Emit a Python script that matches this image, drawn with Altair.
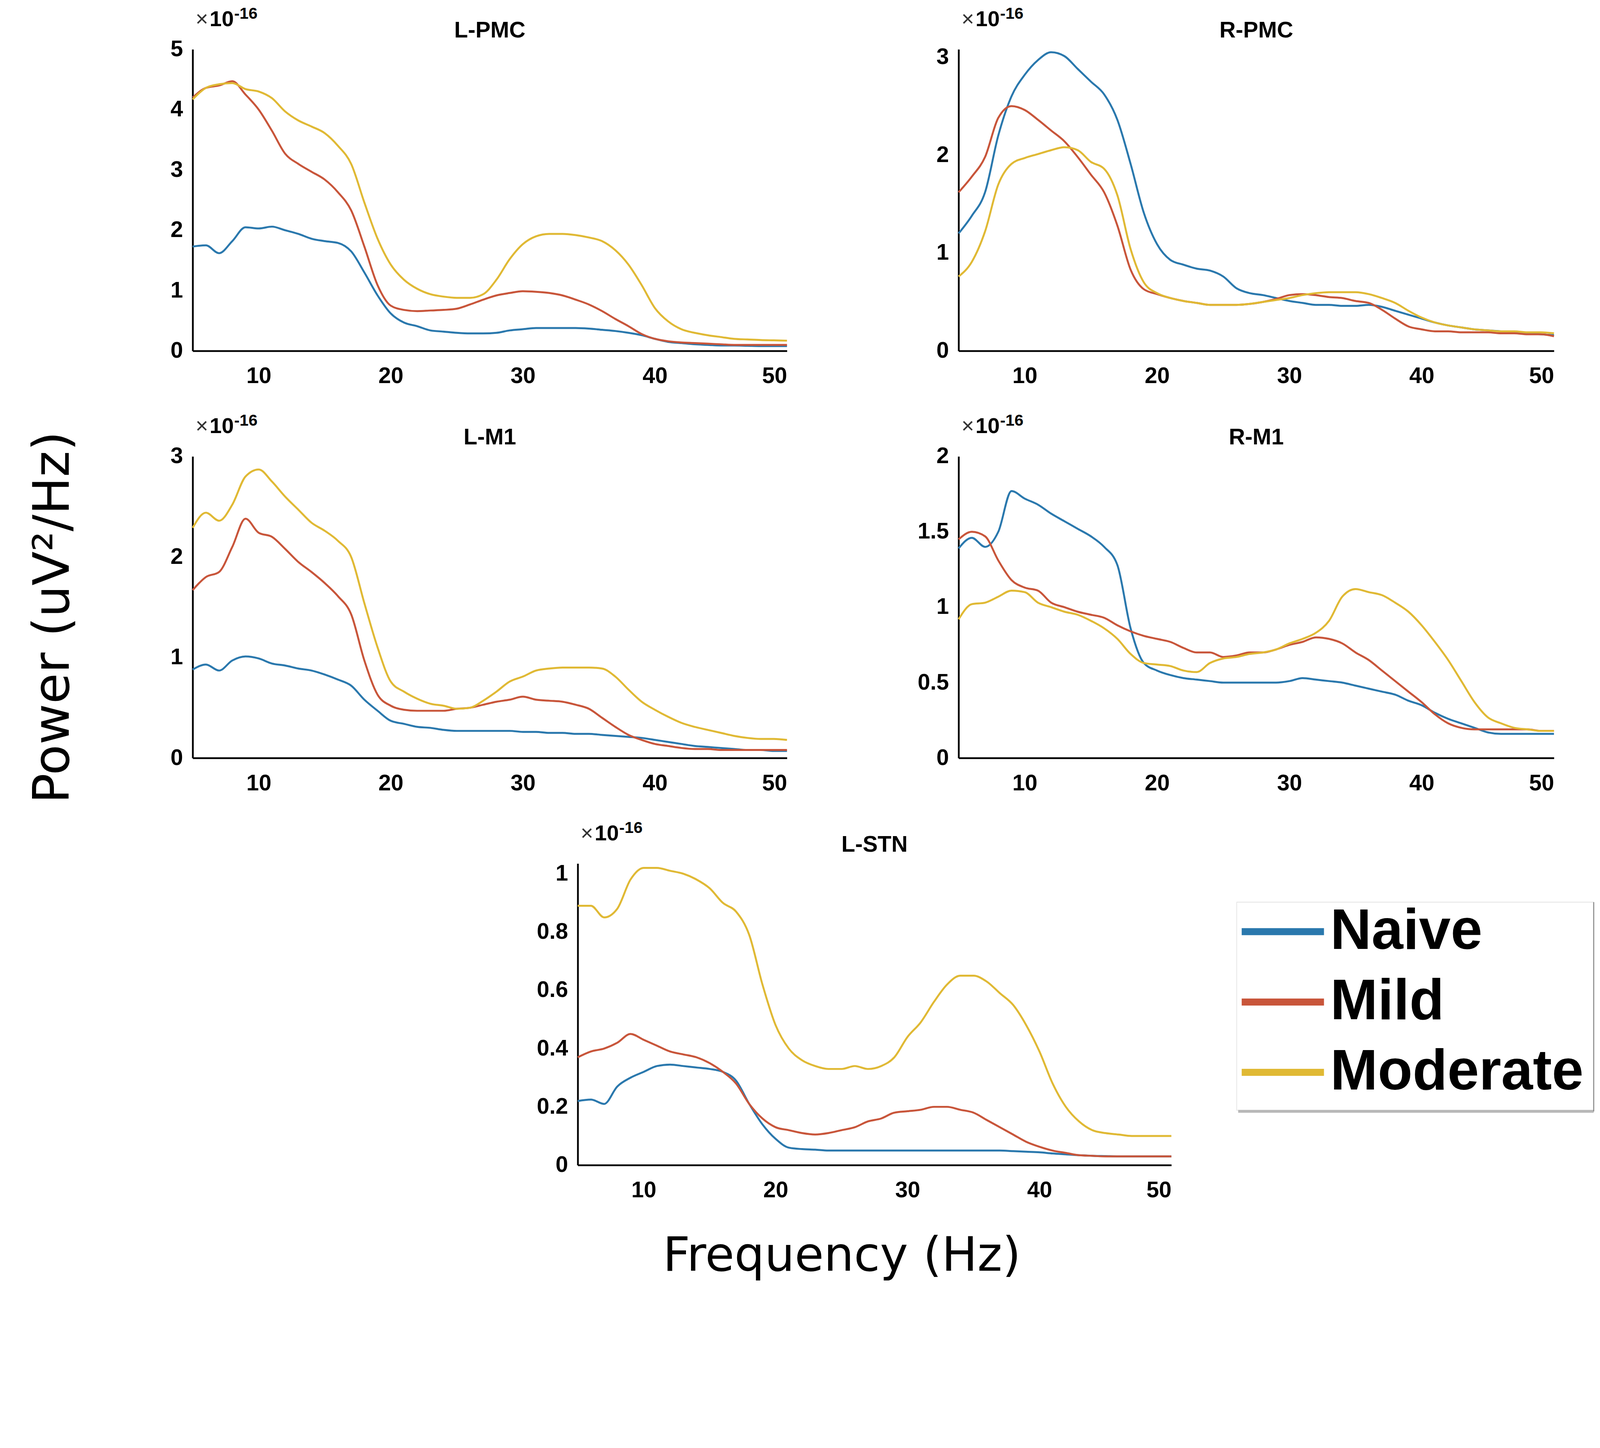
import altair as alt
import pandas as pd

freq = list(range(5, 51))
series = ["Naive", "Mild", "Moderate"]
colors = ["#2a78ad", "#c8553a", "#e0b934"]

# ---- L-PMC ----
lpmc_naive = [1.73, 1.75, 1.62, 1.82, 2.05, 2.03, 2.06, 2.00, 1.94, 1.86, 1.82, 1.79, 1.65, 1.30, 0.92, 0.62,
              0.47, 0.41, 0.34, 0.32, 0.30, 0.29, 0.29, 0.30, 0.34, 0.36, 0.38, 0.38, 0.38, 0.38, 0.37, 0.35,
              0.33, 0.30, 0.26, 0.20, 0.15, 0.13, 0.11, 0.10, 0.09, 0.09, 0.085, 0.08, 0.08, 0.08]
lpmc_mild = [4.20, 4.36, 4.40, 4.47, 4.25, 4.00, 3.65, 3.27, 3.10, 2.97, 2.84, 2.63, 2.33, 1.73, 1.09, 0.75,
             0.68, 0.66, 0.67, 0.68, 0.70, 0.77, 0.85, 0.92, 0.96, 0.99, 0.98, 0.96, 0.92, 0.85, 0.77, 0.66,
             0.53, 0.41, 0.28, 0.20, 0.16, 0.14, 0.13, 0.12, 0.11, 0.10, 0.10, 0.10, 0.10, 0.10]
lpmc_moderate = [4.17, 4.36, 4.42, 4.44, 4.34, 4.30, 4.19, 3.97, 3.82, 3.72, 3.61, 3.40, 3.10, 2.46, 1.86, 1.43,
                 1.18, 1.03, 0.94, 0.90, 0.88, 0.88, 0.94, 1.18, 1.52, 1.77, 1.90, 1.94, 1.94, 1.92, 1.88, 1.82,
                 1.67, 1.43, 1.09, 0.71, 0.49, 0.36, 0.30, 0.26, 0.23, 0.20, 0.19, 0.18, 0.175, 0.17]

# ---- R-PMC ----
rpmc_naive = [1.20, 1.38, 1.62, 2.20, 2.60, 2.82, 2.97, 3.05, 3.01, 2.88, 2.75, 2.62, 2.36, 1.91, 1.41, 1.09,
              0.93, 0.88, 0.84, 0.82, 0.76, 0.64, 0.59, 0.57, 0.54, 0.51, 0.49, 0.47, 0.47, 0.46, 0.46, 0.47,
              0.45, 0.41, 0.37, 0.33, 0.29, 0.26, 0.24, 0.22, 0.21, 0.20, 0.19, 0.18, 0.17, 0.16]
rpmc_mild = [1.62, 1.78, 1.98, 2.38, 2.50, 2.46, 2.36, 2.25, 2.14, 1.98, 1.80, 1.62, 1.28, 0.83, 0.63, 0.58,
             0.54, 0.51, 0.49, 0.47, 0.47, 0.47, 0.48, 0.50, 0.53, 0.57, 0.58, 0.57, 0.55, 0.54, 0.51, 0.49,
             0.42, 0.33, 0.25, 0.22, 0.20, 0.20, 0.19, 0.19, 0.19, 0.18, 0.18, 0.17, 0.17, 0.15]
rpmc_moderate = [0.76, 0.91, 1.22, 1.70, 1.91, 1.97, 2.01, 2.05, 2.08, 2.05, 1.93, 1.86, 1.59, 1.04, 0.70, 0.59,
                 0.54, 0.51, 0.49, 0.47, 0.47, 0.47, 0.48, 0.50, 0.52, 0.54, 0.57, 0.59, 0.60, 0.60, 0.60, 0.58,
                 0.54, 0.49, 0.41, 0.34, 0.29, 0.26, 0.24, 0.22, 0.21, 0.20, 0.20, 0.19, 0.19, 0.18]

# ---- L-M1 ----
lm1_naive = [0.88, 0.93, 0.87, 0.97, 1.01, 0.99, 0.94, 0.92, 0.89, 0.87, 0.83, 0.78, 0.72, 0.58, 0.47, 0.37,
             0.34, 0.31, 0.30, 0.28, 0.27, 0.27, 0.27, 0.27, 0.27, 0.26, 0.26, 0.25, 0.25, 0.24, 0.24, 0.23,
             0.22, 0.21, 0.20, 0.18, 0.16, 0.14, 0.12, 0.11, 0.10, 0.09, 0.08, 0.08, 0.07, 0.07]
lm1_mild = [1.67, 1.80, 1.85, 2.10, 2.38, 2.24, 2.20, 2.08, 1.95, 1.85, 1.74, 1.61, 1.43, 0.97, 0.63, 0.52,
            0.48, 0.47, 0.47, 0.47, 0.49, 0.50, 0.53, 0.56, 0.58, 0.61, 0.58, 0.57, 0.56, 0.53, 0.49, 0.40,
            0.31, 0.23, 0.18, 0.14, 0.12, 0.10, 0.09, 0.09, 0.08, 0.08, 0.08, 0.08, 0.08, 0.08]
lm1_moderate = [2.29, 2.44, 2.36, 2.52, 2.80, 2.87, 2.75, 2.60, 2.47, 2.34, 2.26, 2.16, 2.00, 1.54, 1.10, 0.76,
                0.66, 0.59, 0.54, 0.52, 0.49, 0.50, 0.57, 0.66, 0.76, 0.81, 0.87, 0.89, 0.90, 0.90, 0.90, 0.89,
                0.81, 0.68, 0.56, 0.48, 0.41, 0.35, 0.31, 0.28, 0.25, 0.22, 0.20, 0.19, 0.19, 0.18]

# ---- R-M1 ----
rm1_naive = [1.39, 1.46, 1.40, 1.50, 1.77, 1.72, 1.68, 1.62, 1.57, 1.52, 1.47, 1.40, 1.28, 0.86, 0.63, 0.58,
             0.55, 0.53, 0.52, 0.51, 0.50, 0.50, 0.50, 0.50, 0.50, 0.51, 0.53, 0.52, 0.51, 0.50, 0.48, 0.46,
             0.44, 0.42, 0.38, 0.35, 0.30, 0.26, 0.23, 0.20, 0.17, 0.16, 0.16, 0.16, 0.16, 0.16]
rm1_mild = [1.45, 1.50, 1.47, 1.31, 1.18, 1.13, 1.11, 1.03, 1.00, 0.97, 0.95, 0.93, 0.88, 0.84, 0.81, 0.79,
            0.77, 0.73, 0.70, 0.70, 0.67, 0.68, 0.70, 0.70, 0.72, 0.75, 0.77, 0.80, 0.79, 0.76, 0.70, 0.65,
            0.58, 0.51, 0.44, 0.37, 0.29, 0.23, 0.20, 0.19, 0.19, 0.19, 0.19, 0.19, 0.18, 0.18]
rm1_moderate = [0.92, 1.02, 1.03, 1.07, 1.11, 1.10, 1.03, 1.00, 0.97, 0.95, 0.91, 0.86, 0.79, 0.69, 0.63, 0.62,
                0.61, 0.58, 0.57, 0.63, 0.66, 0.67, 0.69, 0.70, 0.72, 0.76, 0.79, 0.83, 0.91, 1.07, 1.12, 1.10,
                1.08, 1.03, 0.97, 0.88, 0.77, 0.65, 0.51, 0.37, 0.27, 0.23, 0.20, 0.19, 0.18, 0.18]

# ---- L-STN ----
lstn_naive = [0.22, 0.225, 0.21, 0.27, 0.30, 0.32, 0.34, 0.345, 0.34, 0.335, 0.33, 0.32, 0.29, 0.21, 0.14, 0.09,
              0.06, 0.055, 0.053, 0.05, 0.05, 0.05, 0.05, 0.05, 0.05, 0.05, 0.05, 0.05, 0.05, 0.05, 0.05, 0.05,
              0.05, 0.048, 0.046, 0.044, 0.04, 0.037, 0.034, 0.032, 0.031, 0.03, 0.03, 0.03, 0.03, 0.03]
lstn_mild = [0.37, 0.39, 0.40, 0.42, 0.45, 0.43, 0.41, 0.39, 0.38, 0.37, 0.35, 0.32, 0.28, 0.21, 0.16, 0.13,
             0.12, 0.11, 0.105, 0.11, 0.12, 0.13, 0.15, 0.16, 0.18, 0.185, 0.19, 0.20, 0.20, 0.19, 0.18, 0.155,
             0.13, 0.105, 0.08, 0.063, 0.05, 0.042, 0.034, 0.032, 0.03, 0.03, 0.03, 0.03, 0.03, 0.03]
lstn_moderate = [0.89, 0.89, 0.85, 0.88, 0.98, 1.02, 1.02, 1.01, 1.00, 0.98, 0.95, 0.90, 0.87, 0.79, 0.62, 0.48,
                 0.40, 0.36, 0.34, 0.33, 0.33, 0.34, 0.33, 0.34, 0.37, 0.44, 0.49, 0.56, 0.62, 0.65, 0.65, 0.63,
                 0.59, 0.55, 0.48, 0.39, 0.28, 0.20, 0.15, 0.12, 0.11, 0.105, 0.10, 0.10, 0.10, 0.10]

x_ticks = [10, 20, 30, 40, 50]
y_label = "Power (uV²/Hz)"
x_label = "Frequency (Hz)"

TICK_FONT = "Liberation Sans"
TITLE_FONT = "DejaVu Sans"
FS = 64
PH = 858
LW = 1690           # left column panel width
RW = 1693           # right column panel width
STN_OFF = 1095      # horizontal offset of the bottom panel
STN_W = 1688


def make_df(n, m, mo):
    return pd.DataFrame({
        "Frequency": freq * 3,
        "Power": n + m + mo,
        "Group": ["Naive"] * len(freq) + ["Mild"] * len(freq) + ["Moderate"] * len(freq),
    })


def one(label):
    return pd.DataFrame({"label": [label]})


def panel_layers(title, n, m, mo, ymax, yticks, width, off=0):
    df = make_df(n, m, mo)
    ya = dict(values=yticks, format="~g", title=None)
    if off:
        ya["offset"] = -off
    xs = dict(domain=[5, 50], nice=False, zero=False)
    if off:
        xs["range"] = [off, off + width]
    lines = alt.Chart(df).mark_line(strokeWidth=5.5, interpolate="monotone").encode(
        x=alt.X("Frequency:Q", scale=alt.Scale(**xs), axis=alt.Axis(values=x_ticks, title=None)),
        y=alt.Y("Power:Q", scale=alt.Scale(domain=[0, ymax], nice=False), axis=alt.Axis(**ya)),
        color=alt.Color("Group:N", scale=alt.Scale(domain=series, range=colors), legend=None),
    )
    t = alt.Chart(one(title)).mark_text(
        font=TICK_FONT, fontSize=FS, fontWeight="bold", align="center", baseline="alphabetic", color="black"
    ).encode(x=alt.value(off + width / 2), y=alt.value(-34), text="label:N")
    times = alt.Chart(one("×")).mark_text(
        font=TICK_FONT, fontSize=62, align="left", baseline="alphabetic", color="#333333"
    ).encode(x=alt.value(off + 8), y=alt.value(-66), text="label:N")
    ten = alt.Chart(one("10")).mark_text(
        font=TICK_FONT, fontSize=62, fontWeight="bold", align="left", baseline="alphabetic", color="black"
    ).encode(x=alt.value(off + 48), y=alt.value(-66), text="label:N")
    expo = alt.Chart(one("-16")).mark_text(
        font=TICK_FONT, fontSize=46, fontWeight="bold", align="left", baseline="alphabetic", color="black"
    ).encode(x=alt.value(off + 118), y=alt.value(-87), text="label:N")
    return [lines, t, times, ten, expo]


lpmc = alt.layer(*panel_layers("L-PMC", lpmc_naive, lpmc_mild, lpmc_moderate, 5, [0, 1, 2, 3, 4, 5], LW)
                 ).properties(width=LW, height=PH)
rpmc = alt.layer(*panel_layers("R-PMC", rpmc_naive, rpmc_mild, rpmc_moderate, 3.08, [0, 1, 2, 3], RW)
                 ).properties(width=RW, height=PH)

ylab = alt.Chart(one(y_label)).mark_text(
    font=TITLE_FONT, fontSize=142, angle=270, align="center", baseline="middle", color="black"
).encode(x=alt.value(-395), y=alt.value(458), text="label:N")
lm1 = alt.layer(*panel_layers("L-M1", lm1_naive, lm1_mild, lm1_moderate, 3, [0, 1, 2, 3], LW), ylab
                ).properties(width=LW, height=PH)
rm1 = alt.layer(*panel_layers("R-M1", rm1_naive, rm1_mild, rm1_moderate, 2, [0, 0.5, 1, 1.5, 2], RW)
                ).properties(width=RW, height=PH)

stn_layers = panel_layers("L-STN", lstn_naive, lstn_mild, lstn_moderate, 1.035, [0, 0.2, 0.4, 0.6, 0.8, 1],
                          STN_W, off=STN_OFF)
xlab = alt.Chart(one(x_label)).mark_text(
    font=TITLE_FONT, fontSize=135, align="center", baseline="alphabetic", color="black"
).encode(x=alt.value(1846), y=alt.value(PH + 300), text="label:N")

# legend drawn beside the bottom panel
LX = 2969           # legend box left edge, relative to the bottom row origin
legend_df = pd.DataFrame({"Group": series})
box = alt.Chart(one("")).mark_rect(fill="white", stroke="#e4e4e4", strokeWidth=2).encode(
    x=alt.value(LX), x2=alt.value(LX + 1015), y=alt.value(110), y2=alt.value(702)
)
shadow_b = alt.Chart(one("")).mark_rule(color="#b8b8b8", strokeWidth=8).encode(
    x=alt.value(LX + 4), x2=alt.value(LX + 1015), y=alt.value(705)
)
shadow_r = alt.Chart(one("")).mark_rule(color="#8a8a8a", strokeWidth=3).encode(
    x=alt.value(LX + 1015), y=alt.value(110), y2=alt.value(705)
)
leg_y = alt.Y("Group:N", scale=alt.Scale(type="point", domain=series, range=[194, 594], padding=0), axis=None)
leg_lines = alt.Chart(legend_df).mark_rule(strokeWidth=20).encode(
    x=alt.value(LX + 14), x2=alt.value(LX + 248), y=leg_y,
    color=alt.Color("Group:N", scale=alt.Scale(domain=series, range=colors), legend=None),
)
leg_text = alt.Chart(legend_df).mark_text(
    font=TICK_FONT, fontSize=162, fontWeight="bold", align="left", baseline="middle", color="black"
).encode(x=alt.value(LX + 266), y=leg_y, text="Group:N")

# the bottom cell keeps the left column's width; its content is shifted right through the x range
lstn = alt.layer(*stn_layers, xlab, box, shadow_b, shadow_r, leg_lines, leg_text).resolve_scale(
    y="independent"
).properties(width=LW, height=PH)

chart = alt.concat(
    lpmc, rpmc, lm1, rm1, lstn,
    columns=2, bounds="flush", spacing={"row": 300, "column": 488},
).properties(
    padding={"left": 73, "top": -176, "right": 5, "bottom": -140}
).configure_view(stroke=None).configure_axis(
    labelFont=TICK_FONT, labelFontSize=FS, labelFontWeight="bold", labelColor="black",
    domainColor="black", domainWidth=5, ticks=False, tickSize=0, grid=False
).configure_axisX(labelPadding=40).configure_axisY(labelPadding=28)

chart.save("out.html", embed_options={"renderer": "svg", "actions": False})
